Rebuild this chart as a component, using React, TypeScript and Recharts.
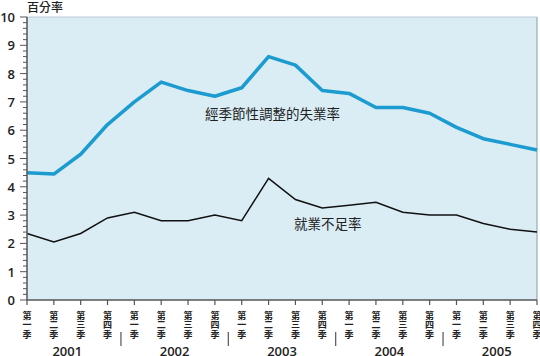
import { LineChart, Line, XAxis, YAxis, CartesianGrid, ReferenceLine } from 'recharts';

const years = ['2001', '2002', '2003', '2004', '2005'];
const quarterNames = ['第一季', '第二季', '第三季', '第四季'];
const unemployment = [4.5, 4.45, 5.15, 6.2, 7.0, 7.7, 7.4, 7.2, 7.5, 8.6, 8.3, 7.4, 7.3, 6.8, 6.8, 6.6, 6.1, 5.7, 5.5, 5.3];
const underemployment = [2.35, 2.05, 2.35, 2.9, 3.1, 2.8, 2.8, 3.0, 2.8, 4.3, 3.55, 3.25, 3.35, 3.45, 3.1, 3.0, 3.0, 2.7, 2.5, 2.4];

const quarterLabels = years.flatMap(() => quarterNames);
const data = quarterLabels.map((q, i) => ({
  idx: i,
  q,
  unemployment: unemployment[i],
  underemployment: underemployment[i],
}));

// quarter ticks, year label positions (x.5 mid-group) and group separators
const xTicks: number[] = [];
for (let i = 0; i < quarterLabels.length; i++) xTicks.push(i);
years.forEach((_, y) => xTicks.push(y * 4 + 1.5));
for (let y = 1; y < years.length; y++) xTicks.push(y * 4 - 0.5);

const yTicks: number[] = [];
for (let i = 0; i <= 50; i++) yTicks.push(Number((i * 0.2).toFixed(1)));

const FONT = "'Open Sans', 'Noto Sans CJK TC', sans-serif";
const AXIS = '#555';

function XTick(props: any) {
  const { x, y, payload } = props;
  const v = payload.value as number;
  if (Number.isInteger(v)) {
    const chars = quarterLabels[v].split('');
    return (
      <g>
        <line x1={x} y1={y} x2={x} y2={y + 5} stroke={AXIS} strokeWidth={1.2} />
        {chars.map((c, k) => (
          <text key={k} x={x} y={y + 15 + k * 9.6} textAnchor="middle" dominantBaseline="central"
            fontSize={9} fontWeight={600} fill="#222" fontFamily={FONT}>
            {c}
          </text>
        ))}
      </g>
    );
  }
  if ((v - 1.5) % 4 === 0) {
    return (
      <text x={x} y={y + 51} textAnchor="middle" dominantBaseline="central" fontSize={13}
        fontWeight={600} fill="#222" fontFamily={FONT}>
        {years[(v - 1.5) / 4]}
      </text>
    );
  }
  return <line x1={x} y1={y + 32} x2={x} y2={y + 46} stroke={AXIS} strokeWidth={1.2} />;
}

function YTick(props: any) {
  const { x, y, payload } = props;
  const v = payload.value as number;
  const major = Math.abs(v - Math.round(v)) < 1e-6;
  return (
    <g>
      <line x1={x - (major ? 7 : 4)} y1={y} x2={x} y2={y} stroke={AXIS} strokeWidth={1} />
      {major && (
        <text x={x - 12} y={y} textAnchor="end" dominantBaseline="central" fontSize={13}
          fontWeight={600} fill="#222" fontFamily={FONT}>
          {Math.round(v)}
        </text>
      )}
    </g>
  );
}

const textStyle = {
  position: 'absolute' as const,
  fontFamily: FONT,
  color: '#222',
  whiteSpace: 'nowrap' as const,
  lineHeight: 1,
};

export default function App() {
  return (
    <div style={{ position: 'absolute', left: 0, top: 0, width: 540, height: 356, background: '#fff' }}>
      <LineChart width={540} height={356} data={data} margin={{ top: 17, right: 3, bottom: 0, left: 0 }}>
        <CartesianGrid horizontal={false} vertical={false} fill="#daedf5" stroke="none" />
        <XAxis
          dataKey="idx"
          type="number"
          domain={[0, 19]}
          ticks={xTicks}
          interval={0}
          height={56}
          tickSize={0}
          tickMargin={0}
          tickLine={false}
          tick={<XTick />}
          axisLine={{ stroke: AXIS, strokeWidth: 1.5 }}
        />
        <YAxis
          domain={[0, 10]}
          ticks={yTicks}
          interval={0}
          width={27}
          tickSize={0}
          tickMargin={0}
          tickLine={false}
          tick={<YTick />}
          axisLine={{ stroke: AXIS, strokeWidth: 1.5 }}
        />
        <ReferenceLine x={19} stroke="#8a9aa2" strokeWidth={1} />
        <ReferenceLine y={10} stroke="#b8ccd6" strokeWidth={1} />
        <Line dataKey="unemployment" stroke="#1b9bcf" strokeWidth={3.5} dot={false} isAnimationActive={false} strokeLinejoin="round" />
        <Line dataKey="underemployment" stroke="#111" strokeWidth={1.5} dot={false} isAnimationActive={false} />
      </LineChart>
      <div style={{ ...textStyle, left: 27, top: 2, fontSize: 12, fontWeight: 500 }}>百分率</div>
      <div style={{ ...textStyle, left: 205, top: 108, fontSize: 13.5 }}>經季節性調整的失業率</div>
      <div style={{ ...textStyle, left: 294, top: 218, fontSize: 13.5 }}>就業不足率</div>
    </div>
  );
}
